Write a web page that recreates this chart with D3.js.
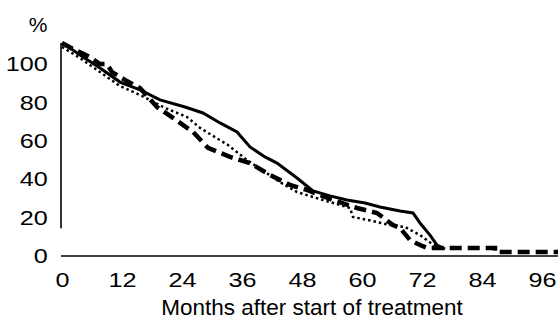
<!DOCTYPE html>
<html>
<head>
<meta charset="utf-8">
<script src="https://cdn.jsdelivr.net/npm/d3@7"></script>
<style>
  html, body { margin: 0; padding: 0; background: #fff; }
  svg { display: block; }
  text { font-family: "Liberation Sans", Arial, sans-serif; fill: #000; }
</style>
</head>
<body>
<div id="chart"></div>
<script>
// ---- data (months, percent) ----
const xTicks = [0, 12, 24, 36, 48, 60, 72, 84, 96];
const yTicks = [0, 20, 40, 60, 80, 100];

const solidSeries = [
  [0,110.9],[1.6,108.3],[3.6,104.7],[7.6,97.9],[11.6,90.6],[15.6,86.5],[19.6,81.3],
  [24.6,77.6],[28.2,74.5],[31.6,69.3],[35,64.6],[37.6,56.8],[40.6,51.6],[43,48.4],
  [47,40.6],[50.2,33.9],[53.6,31.3],[57,29.2],[60.6,27.6],[63.6,25.5],[67.6,23.4],
  [70.2,22.4],[71.6,17.2],[73.6,10.9],[75,5.7],[76.6,3.6]
];
const dottedSeries = [
  [0,108.9],[3.6,103.1],[7.6,95.8],[11.6,88.5],[15.6,83.9],[20.6,77.1],[25,72.4],
  [27.6,66.7],[33.2,57.8],[37,50],[40,44.8],[43.6,38.5],[47,33.3],[50.2,30.7],
  [53.6,28.1],[57.6,25],[58.2,20.3],[62.2,18.2],[65.6,16.1],[68.6,15.1],[71.6,10.9],
  [74,6.3],[75.6,4.2]
];
const dashedSeries = [
  [0,110.9],[2.6,107.3],[5.6,103.6],[7.6,100],[9,100],[10,95.8],[12.6,91.7],
  [15.6,87.5],[19,77.6],[22.2,71.9],[26.2,64.6],[29.2,56.3],[33.6,51.6],[37.6,48.4],
  [41.6,42.2],[45.6,37],[49,34.4],[53.6,29.7],[59,25],[63,22.4],[66.2,16.1],
  [67.6,14.6],[69.6,8.3],[71.6,5.7],[73,4.2],[86.6,4.2],[86.6,2.1],[99.2,2.1]
];

const W = 558, H = 325;
const svg = d3.select("#chart").append("svg").attr("width", W).attr("height", H);

const x = d3.scaleLinear().domain([0, 96]).range([62, 542]);
const y = d3.scaleLinear().domain([0, 100]).range([256, 64]);

// axes lines
svg.append("line").attr("x1", x(0) - 1).attr("x2", W).attr("y1", y(0)).attr("y2", y(0))
  .attr("stroke", "#000").attr("stroke-width", 1.6);
svg.append("line").attr("x1", x(0) - 1).attr("x2", x(0) - 1).attr("y1", y(110.9)).attr("y2", y(14.4))
  .attr("stroke", "#000").attr("stroke-width", 1.6);

// x axis labels
const xAxis = d3.axisBottom(x).tickValues(xTicks).tickSize(0).tickPadding(16);
const gx = svg.append("g").attr("transform", `translate(0,${y(0)})`).call(xAxis);
gx.select(".domain").remove();
gx.selectAll("text").style("font-size", "21px").style("font-family", "'Liberation Sans', Arial, sans-serif")
  .attr("fill", "#000").attr("transform", "scale(1.2,1)");

// y axis labels
const yAxis = d3.axisLeft(y).tickValues(yTicks).tickSize(0).tickPadding(11);
const gy = svg.append("g").attr("transform", `translate(${x(0) - 1},0)`).call(yAxis);
gy.select(".domain").remove();
gy.selectAll("text").style("font-size", "21px").style("font-family", "'Liberation Sans', Arial, sans-serif")
  .attr("fill", "#000").attr("transform", "scale(1.2,1)");

// unit label and axis title
svg.append("text").attr("x", 38).attr("y", 32).attr("text-anchor", "middle")
  .style("font-size", "21px").text("%");
svg.append("text").attr("x", 312).attr("y", 315).attr("text-anchor", "middle")
  .style("font-size", "22.5px").text("Months after start of treatment");

// curves
const line = d3.line().x(d => x(d[0])).y(d => y(d[1])).curve(d3.curveLinear);

svg.append("path").datum(dottedSeries).attr("d", line)
  .attr("fill", "none").attr("stroke", "#000").attr("stroke-width", 2.5)
  .attr("stroke-dasharray", "2.5,3");
svg.append("path").datum(dashedSeries).attr("d", line)
  .attr("fill", "none").attr("stroke", "#000").attr("stroke-width", 4.5)
  .attr("stroke-dasharray", "12,6");
svg.append("path").datum(solidSeries).attr("d", line)
  .attr("fill", "none").attr("stroke", "#000").attr("stroke-width", 3);
</script>
</body>
</html>
